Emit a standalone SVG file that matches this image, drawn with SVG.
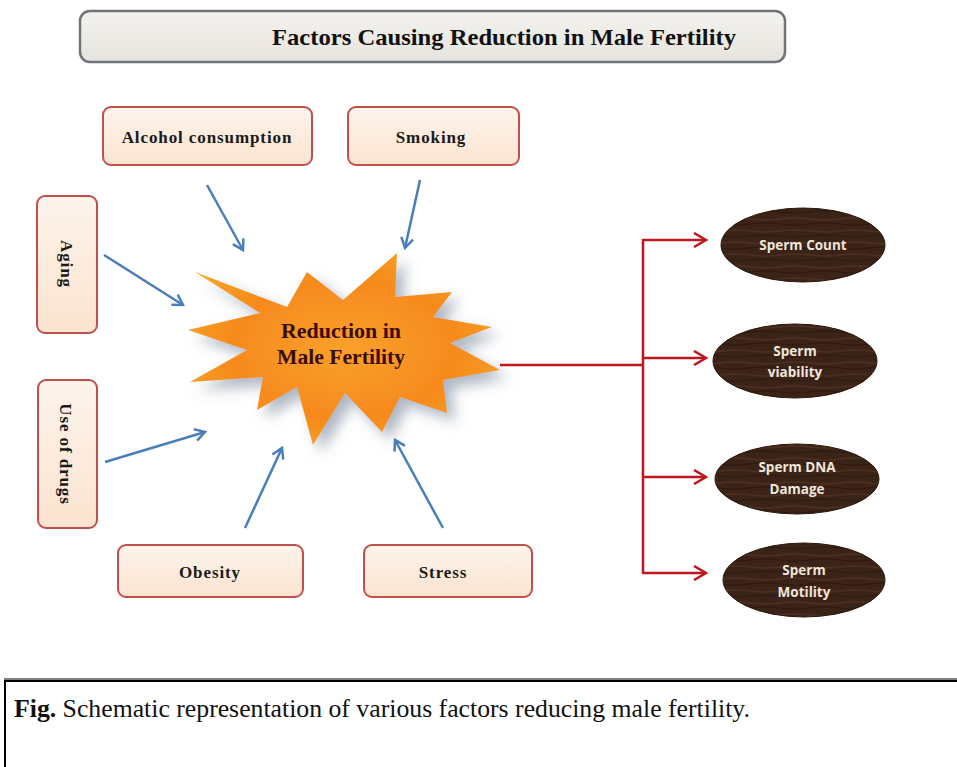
<svg xmlns="http://www.w3.org/2000/svg" width="957" height="767" viewBox="0 0 957 767">
<style>
.factor rect{fill:url(#peach);stroke:#c0504d;stroke-width:2}
.ftxt{font-family:"Liberation Serif",serif;font-weight:bold;font-size:17px;letter-spacing:0.9px;fill:#1a1a1a;text-anchor:middle}
.blue{stroke:#4a7ebb;stroke-width:2.5;fill:none;marker-end:url(#bArrow)}
.red{stroke:#c0161f;stroke-width:2.5;fill:none}
.redA{stroke:#c0161f;stroke-width:2.5;fill:none;marker-end:url(#rArrow)}
.oval ellipse{fill:url(#wood);stroke:#2a160c;stroke-width:1}
.otxt{font-family:"Open Sans","DejaVu Sans",sans-serif;font-weight:bold;font-size:13.5px;fill:#efe6dc;text-anchor:middle}
</style>
<defs>
<linearGradient id="peach" x1="0" y1="0" x2="0" y2="1">
<stop offset="0" stop-color="#fdf4ec"/><stop offset="1" stop-color="#fbe3cf"/>
</linearGradient>
<linearGradient id="gray" x1="0" y1="0" x2="0" y2="1">
<stop offset="0" stop-color="#f3f2ee"/><stop offset="1" stop-color="#e6e4de"/>
</linearGradient>
<radialGradient id="orange" cx="0.5" cy="0.5" r="0.6">
<stop offset="0" stop-color="#f9a12a"/><stop offset="0.6" stop-color="#f68a1e"/><stop offset="1" stop-color="#f6a623"/>
</radialGradient>
<pattern id="wood" patternUnits="userSpaceOnUse" width="60" height="12">
<rect width="60" height="12" fill="#3b2317"/>
<path d="M0,3 Q15,1 30,3 T60,3" stroke="#4d3020" stroke-width="1.5" fill="none"/>
<path d="M0,8 Q15,10 30,8 T60,8" stroke="#2c180e" stroke-width="1.2" fill="none"/>
</pattern>
<filter id="shadow" x="-20%" y="-20%" width="150%" height="150%">
<feDropShadow dx="8" dy="8" stdDeviation="7" flood-color="#6a7a90" flood-opacity="0.55"/>
</filter>
<marker id="bArrow" viewBox="0 0 14 14" markerWidth="14" markerHeight="14" markerUnits="userSpaceOnUse" refX="12" refY="7" orient="auto">
<path d="M2,1 L12,7 L2,13" stroke="#4a7ebb" stroke-width="2.5" fill="none"/>
</marker>
<marker id="rArrow" viewBox="0 0 16 16" markerWidth="16" markerHeight="16" markerUnits="userSpaceOnUse" refX="14" refY="8" orient="auto">
<path d="M2,1 L14,8 L2,15" stroke="#c0161f" stroke-width="2.5" fill="none"/>
</marker>
</defs>
<rect width="957" height="767" fill="#ffffff"/>

<g id="title">
<rect x="80" y="11" width="705" height="51" rx="10" fill="url(#gray)" stroke="#6f7479" stroke-width="2.5"/>
<text x="504" y="45" font-family="Liberation Serif,serif" font-weight="bold" font-size="23" fill="#111" text-anchor="middle" textLength="464" lengthAdjust="spacingAndGlyphs">Factors Causing Reduction in Male Fertility</text>
</g>

<g id="center">
<polygon filter="url(#shadow)" fill="url(#orange)" points="195,272 287,307 307,272 343,300 397,253 395,297 452,292 433,317 492,327 450,343 500,370 443,380 447,413 400,397 382,432 345,393 313,445 297,387 257,410 263,377 190,382 247,350 188,330 260,313"/>
<text font-family="Liberation Serif,serif" font-weight="bold" font-size="20" fill="#3a0c08" text-anchor="middle"><tspan x="341" y="338" textLength="120" lengthAdjust="spacingAndGlyphs">Reduction in</tspan><tspan x="341" y="364" textLength="128" lengthAdjust="spacingAndGlyphs">Male Fertility</tspan></text>
</g>

<g id="alcohol" class="factor"><rect x="103" y="107" width="209" height="58" rx="8"/><text class="ftxt" x="207" y="143">Alcohol  consumption</text></g>
<g id="smoking" class="factor"><rect x="348" y="107" width="171" height="58" rx="8"/><text class="ftxt" x="431" y="143">Smoking</text></g>
<g id="aging" class="factor"><rect x="37" y="196" width="60" height="137" rx="8"/><text class="ftxt" transform="translate(61,264) rotate(90)">Aging</text></g>
<g id="drugs" class="factor"><rect x="38" y="380" width="59" height="148" rx="8"/><text class="ftxt" transform="translate(60,454) rotate(90)">Use of drugs</text></g>
<g id="obesity" class="factor"><rect x="118" y="545" width="185" height="52" rx="8"/><text class="ftxt" x="210" y="578">Obesity</text></g>
<g id="stress" class="factor"><rect x="364" y="545" width="168" height="52" rx="8"/><text class="ftxt" x="443" y="578">Stress</text></g>

<g id="count" class="oval"><ellipse cx="803" cy="245" rx="82" ry="37"/><text class="otxt" x="803" y="250">Sperm Count</text></g>
<g id="viability" class="oval"><ellipse cx="795" cy="361" rx="82" ry="37"/><text class="otxt"><tspan x="795" y="356">Sperm</tspan><tspan x="795" y="377">viability</tspan></text></g>
<g id="dna" class="oval"><ellipse cx="797" cy="479" rx="82" ry="35"/><text class="otxt"><tspan x="797" y="472">Sperm DNA</tspan><tspan x="797" y="494">Damage</tspan></text></g>
<g id="motility" class="oval"><ellipse cx="804" cy="580" rx="81" ry="37"/><text class="otxt"><tspan x="804" y="575">Sperm</tspan><tspan x="804" y="597">Motility</tspan></text></g>

<g id="connectors">
<line class="blue" x1="207" y1="185" x2="243" y2="250"/>
<line class="blue" x1="420" y1="180" x2="405" y2="248"/>
<line class="blue" x1="104" y1="255" x2="183" y2="305"/>
<line class="blue" x1="105" y1="462" x2="205" y2="432"/>
<line class="blue" x1="245" y1="528" x2="282" y2="448"/>
<line class="blue" x1="443" y1="528" x2="395" y2="440"/>
<line class="red" x1="500" y1="365" x2="643" y2="365"/>
<line class="red" x1="643" y1="239" x2="643" y2="574"/>
<line class="redA" x1="643" y1="240" x2="706" y2="240"/>
<line class="redA" x1="643" y1="358" x2="706" y2="358"/>
<line class="redA" x1="643" y1="477" x2="706" y2="477"/>
<line class="redA" x1="643" y1="573" x2="706" y2="573"/>
</g>

<g id="caption">
<line x1="4" y1="679" x2="957" y2="679" stroke="#555" stroke-width="1.5"/>
<rect x="5" y="681" width="960" height="100" fill="#fff" stroke="#000" stroke-width="2"/>
<text x="14" y="717" font-family="Liberation Serif,serif" font-size="26" fill="#111" textLength="736" lengthAdjust="spacingAndGlyphs"><tspan font-weight="bold">Fig.</tspan> Schematic representation of various factors reducing male fertility.</text>
</g>
</svg>
